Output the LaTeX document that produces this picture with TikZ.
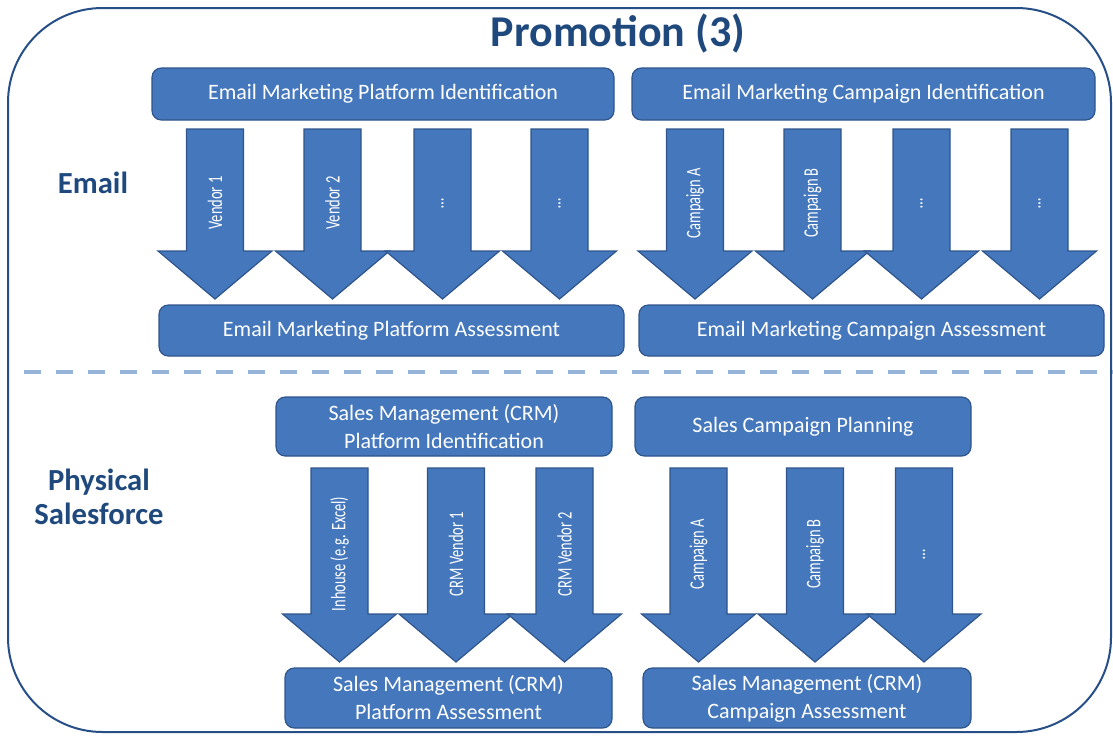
\documentclass[tikz,border=0pt]{standalone}
\usepackage{fontspec}
\setmainfont{Carlito}
\newfontfamily\narrowfont[FakeStretch=0.7]{Carlito}
\usetikzlibrary{positioning,calc}

\definecolor{boxfill}{RGB}{68,119,188}
\definecolor{boxline}{RGB}{47,85,140}
\definecolor{headblue}{RGB}{31,73,125}
\definecolor{dashblue}{RGB}{149,179,215}
\definecolor{frameblue}{RGB}{38,78,135}

\tikzset{
    fat arrow/.pic={
        \path[draw=boxline, fill=boxfill, line width=0.9pt, line join=miter]
            (-28.5,0) -- (28.5,0) -- (28.5,#1) -- (57,#1) -- (0,#1+48) -- (-57,#1) -- (-28.5,#1) -- cycle;
        \node[armlabel] (-label) at (0,{(#1+48)/2-11}) {\tikzpictext};
    }
}

\begin{document}
\begin{tikzpicture}[
            x=0.75pt, y=-0.75pt,
            every node/.style={ text=white, align=center, inner sep=0pt },
            box/.style={ draw=boxline, fill=boxfill, line width=0.9pt, rounded corners=7pt, font=\fontsize{16.5}{21}\selectfont },
            armlabel/.style={ rotate=90, font=\narrowfont\fontsize{15.5}{16}\selectfont },
            heading/.style={ text=headblue, font=\bfseries\fontsize{23}{25.5}\selectfont }
        ]
        \useasboundingbox (0,0) rectangle (1113,736);

        \draw[frameblue, line width=1.5pt, rounded corners=71pt] (8,8) rectangle (1111,732);
        \draw[dashblue, line width=2.6pt, dash pattern=on 12.75pt off 11.25pt] (24,372) -- (1113,372);

        \node[heading, font=\bfseries\fontsize{33}{36}\selectfont] (title) at (618,33) {Promotion (3)};
        \node[heading] (email) at (93,183) {Email};
        \node[heading] (sales) at (99,497) {Physical\\Salesforce};

        % email row
        \node[box, minimum width=346.5pt, minimum height=39pt] (mpid) at (383,94) {Email Marketing Platform Identification};
        \node[box, minimum width=347.25pt, minimum height=39pt] (mcid) at (863.5,94) {Email Marketing Campaign Identification};
        \node[box, minimum width=348.75pt, minimum height=38.25pt] (mpas) at (391.5,330.5) {Email Marketing Platform Assessment};
        \node[box, minimum width=348.75pt, minimum height=38.25pt] (mcas) at (871.5,330.5) {Email Marketing Campaign Assessment};

        \pic[pic text=Vendor 1] (v1) at (215,129) {fat arrow=122};
        \pic[pic text=Vendor 2] (v2) at (332.5,129) {fat arrow=122};
        \pic[pic text=\ldots] (v3) at (442.5,129) {fat arrow=122};
        \pic[pic text=\ldots] (v4) at (559.5,129) {fat arrow=122};

        \pic[pic text=Campaign A] (c1) at (695,129) {fat arrow=122};
        \pic[pic text=Campaign B] (c2) at (812.5,129) {fat arrow=122};
        \pic[pic text=\ldots] (c3) at (921.5,129) {fat arrow=122};
        \pic[pic text=\ldots] (c4) at (1039.5,129) {fat arrow=122};

        % salesforce row
        \node[box, minimum width=252pt, minimum height=44.25pt] (crmid) at (444,426.5) {Sales Management (CRM)\\Platform Identification};
        \node[box, minimum width=252pt, minimum height=44.25pt] (scp) at (803,426.5) {Sales Campaign Planning};
        \node[box, minimum width=245.25pt, minimum height=45pt] (crmas) at (448.5,698) {Sales Management (CRM)\\Platform Assessment};
        \node[box, minimum width=246pt, minimum height=45pt] (scas) at (807,698) {Sales Management (CRM)\\Campaign Assessment};

        \pic[pic text=Inhouse (e.g. Excel)] (p1) at (339.5,468) {fat arrow=146};
        \pic[pic text=CRM Vendor 1] (p2) at (456,468) {fat arrow=146};
        \pic[pic text=CRM Vendor 2] (p3) at (564.5,468) {fat arrow=146};

        \pic[pic text=Campaign A] (s1) at (698.5,468) {fat arrow=146};
        \pic[pic text=Campaign B] (s2) at (815,468) {fat arrow=146};
        \pic[pic text=\ldots] (s3) at (924,468) {fat arrow=146};
    \end{tikzpicture}
\end{document}
